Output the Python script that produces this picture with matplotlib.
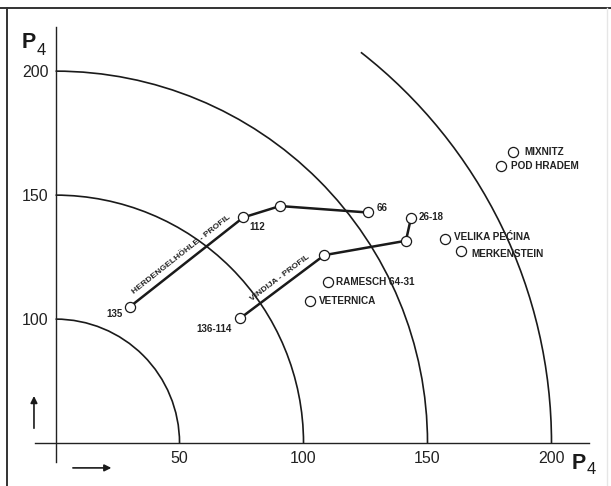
import numpy as np
import matplotlib
matplotlib.use('Agg')
import matplotlib.pyplot as plt
from matplotlib.patches import Arc
from matplotlib.lines import Line2D

plt.rcParams['font.family'] = ['Liberation Sans', 'DejaVu Sans']

# ---- data ----
radii = [50, 100, 150, 200]
arc_end_deg = [90, 90, 90, 52]
arc_center = (0, 50)

x_ticks = [50, 100, 150, 200]
y_ticks = [100, 150, 200]

herd_x = [30.0, 75.7, 90.5, 125.9]
herd_y = [105.0, 141.0, 145.6, 143.0]
herd_labels = ['135', '112', '', '66']
herd_name = 'HERDENGELHÖHLE - PROFIL'

vind_x = [74.4, 108.4, 141.3, 143.3]
vind_y = [100.3, 125.8, 131.6, 140.6]
vind_labels = ['136-114', '', '', '26-18']
vind_name = 'VINDIJA - PROFIL'

sites = ['MIXNITZ', 'POD HRADEM', 'VELIKA PEĆINA', 'MERKENSTEIN',
         'RAMESCH 64-31', 'VETERNICA']
site_x = [184.3, 179.5, 157.2, 163.5, 110.0, 102.6]
site_y = [167.5, 161.7, 132.5, 127.4, 114.8, 107.4]

# ---- figure ----
W, H = 611, 486
fig = plt.figure(figsize=(W / 100, H / 100), dpi=100)
ax = fig.add_axes([0, 0, 1, 1])
scale = 0.40327  # data units per pixel
x0 = -22.4
y0 = 32.7
ax.set_xlim(x0, x0 + W * scale)
ax.set_ylim(y0, y0 + H * scale)
ax.patch.set_alpha(0)

for s in ['top', 'right']:
    ax.spines[s].set_visible(False)
ax.spines['left'].set_position(('data', 0))
ax.spines['bottom'].set_position(('data', 50))
ax.spines['left'].set_bounds(42.3, 217.7)
ax.spines['bottom'].set_bounds(-8.3, 215)
for s in ['left', 'bottom']:
    ax.spines[s].set_linewidth(1.0)
    ax.spines[s].set_color('#222222')

ax.set_xticks(x_ticks)
ax.set_xticklabels([str(v) for v in x_ticks])
ax.set_yticks(y_ticks)
ax.set_yticklabels([str(v) for v in y_ticks])
ax.tick_params(axis='x', length=0, pad=6.0, labelsize=11.5, colors='#222222')
ax.tick_params(axis='y', length=0, pad=5.0, labelsize=11.5, colors='#222222')

# arcs
for r, te in zip(radii, arc_end_deg):
    ax.add_patch(Arc(arc_center, 2 * r, 2 * r, theta1=0, theta2=te,
                     lw=1.2, color='#1a1a1a', zorder=2))

mk = dict(marker='o', ms=7.3, mfc='white', mec='#1a1a1a', mew=0.9)

def draw_profile(xs, ys, labels, offsets, name, t, d):
    ax.plot(xs, ys, '-', color='#1a1a1a', lw=1.8, zorder=3, **mk)
    for x, y, lab, (dx, dy, ha) in zip(xs, ys, labels, offsets):
        if lab:
            ax.annotate(lab, (x, y), xytext=(dx, dy), textcoords='offset points',
                        ha=ha, va='center', fontsize=7, fontweight='bold',
                        color='#222222')
    a = np.arctan2(ys[1] - ys[0], xs[1] - xs[0])
    mx = xs[0] + t * (xs[1] - xs[0])
    my = ys[0] + t * (ys[1] - ys[0])
    ax.annotate(name, (mx, my), xytext=(-np.sin(a) * d, np.cos(a) * d),
                textcoords='offset points', ha='center', va='center',
                rotation=np.degrees(a), rotation_mode='anchor',
                fontsize=6.1, fontweight='bold', color='#222222')

draw_profile(herd_x, herd_y, herd_labels,
             [(-5, -5, 'right'), (4.3, -7.2, 'left'), (0, 0, 'left'), (6.5, 3, 'left')],
             herd_name, 0.5, 6.5)
draw_profile(vind_x, vind_y, vind_labels,
             [(-5.8, -8, 'right'), (0, 0, 'left'), (0, 0, 'left'), (5.8, 1, 'left')],
             vind_name, 0.53, 5.8)

site_off = [(8.6, 0), (7.2, 0), (6.5, 0.8), (7.2, -2.2), (5.8, 0), (6.5, 0)]
ax.plot(site_x, site_y, ls='none', zorder=3, **mk)
for x, y, s, (dx, dy) in zip(site_x, site_y, sites, site_off):
    ax.annotate(s, (x, y), xytext=(dx, dy), textcoords='offset points',
                ha='left', va='center', fontsize=7.2, fontweight='bold',
                color='#222222')

# axis titles P4
ax.text(-13.5, 209.3, 'P', fontsize=15.5, fontweight='bold', ha='left',
        va='baseline', color='#1a1a1a')
ax.annotate('4', (-13.5, 209.3), xytext=(10.6, -5), textcoords='offset points',
            fontsize=12, ha='left', va='baseline', color='#1a1a1a')
ax.text(208.3, 39.5, 'P', fontsize=15.5, fontweight='bold', ha='left',
        va='baseline', color='#1a1a1a', clip_on=False)
ax.annotate('4', (208.3, 39.5), xytext=(10.4, -3.5), textcoords='offset points',
            fontsize=12, ha='left', va='baseline', color='#1a1a1a')

# direction arrows
ax.annotate('', xy=(-8.7, 69.0), xytext=(-8.7, 56.0),
            arrowprops=dict(arrowstyle='-|>', lw=1.2, color='#1a1a1a',
                            mutation_scale=10, shrinkA=0, shrinkB=0))
ax.annotate('', xy=(22.5, 40.0), xytext=(7.0, 40.0),
            arrowprops=dict(arrowstyle='-|>', lw=1.2, color='#1a1a1a',
                            mutation_scale=10, shrinkA=0, shrinkB=0))

# frame of the figure
fig.add_artist(Line2D([0, 1], [1 - 8 / H, 1 - 8 / H], transform=fig.transFigure,
                      color='#333333', lw=1.4))
fig.add_artist(Line2D([7 / W, 7 / W], [0, 1 - 8 / H], transform=fig.transFigure,
                      color='#333333', lw=1.4))
fig.add_artist(Line2D([607 / W, 607 / W], [0, 1 - 8 / H], transform=fig.transFigure,
                      color='#e6e6e6', lw=1.0))

fig.savefig('out.png', dpi=100)
